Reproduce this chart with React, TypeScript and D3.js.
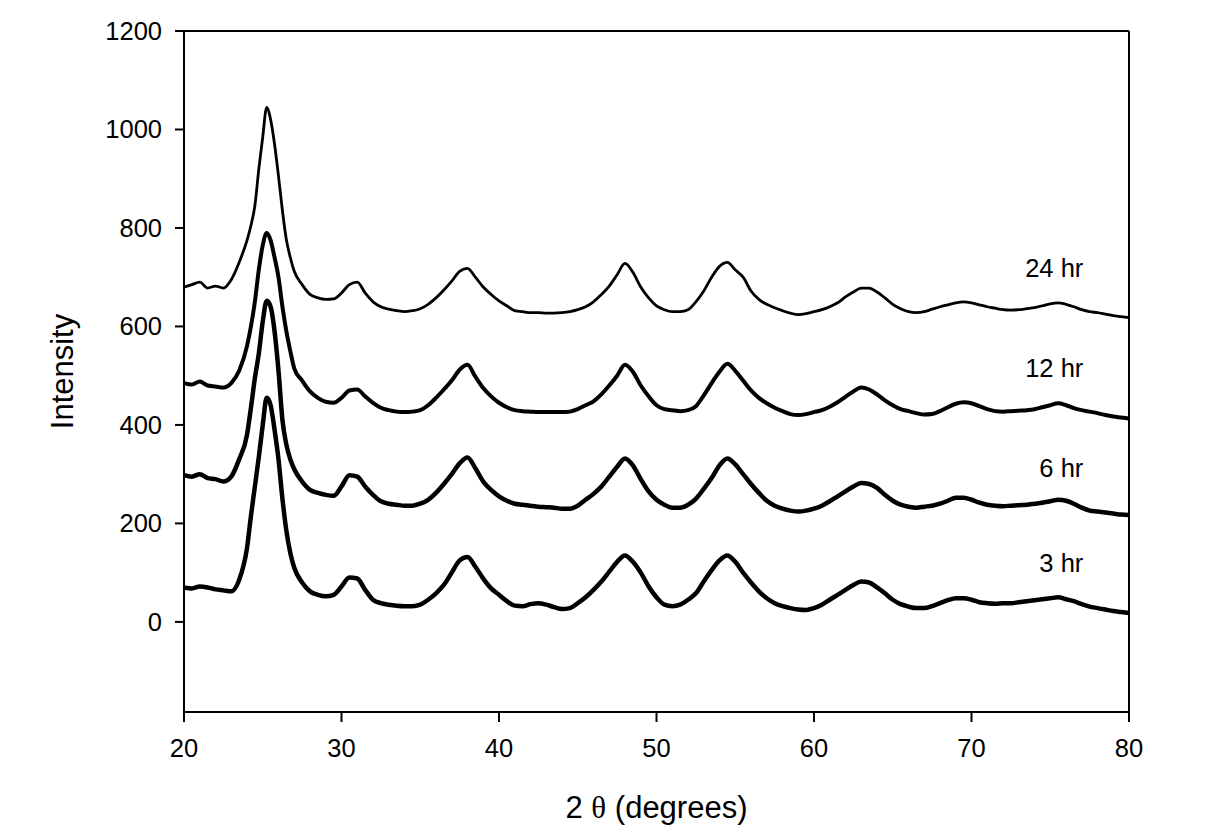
import React from "react";
import * as d3 from "d3";

const angles: number[] = [
  20, 20.5, 21, 21.5, 22, 22.5, 23, 23.5,
  24, 24.25, 24.5, 24.75, 25, 25.25, 25.5, 25.75, 26, 26.25, 26.5, 26.75, 27,
  27.5, 28, 28.5, 29, 29.5, 30, 30.5, 31, 31.5, 32, 32.5, 33, 33.5, 34, 34.5, 35, 35.5,
  36, 36.5, 37, 37.5, 38, 38.5, 39, 39.5, 40, 40.5, 41, 41.5, 42, 42.5, 43, 43.5,
  44, 44.5, 45, 45.5, 46, 46.5, 47, 47.5, 48, 48.5, 49, 49.5, 50, 50.5, 51, 51.5,
  52, 52.5, 53, 53.5, 54, 54.5, 55, 55.5, 56, 56.5, 57, 57.5, 58, 58.5, 59, 59.5,
  60, 60.5, 61, 61.5, 62, 62.5, 63, 63.5, 64, 64.5, 65, 65.5, 66, 66.5, 67, 67.5,
  68, 68.5, 69, 69.5, 70, 70.5, 71, 71.5, 72, 72.5, 73, 73.5, 74, 74.5, 75, 75.5,
  76, 76.5, 77, 77.5, 78, 78.5, 79, 79.5, 80,
];

const hr3: number[] = [
  70, 68, 72, 70, 66, 64, 62, 85,
  150, 215, 275, 335, 400, 455, 440, 390, 330, 250, 185, 140, 110,
  80, 62, 55, 52, 55, 72, 90, 88, 65, 45, 38, 35, 33, 32, 32, 35, 45,
  58, 75, 100, 125, 132, 112, 88, 68, 55, 42, 33, 32, 36, 38, 35, 30,
  26, 28, 38, 50, 65, 82, 102, 122, 135, 122, 100, 72, 50, 35, 32, 35,
  45, 58, 82, 105, 125, 135, 122, 100, 80, 62, 48, 38, 32, 28, 25, 24,
  28, 35, 45, 55, 65, 75, 82, 80, 70, 58, 45, 36, 31, 28, 28, 32,
  38, 44, 48, 48, 45, 40, 38, 37, 38, 38, 40, 42, 44, 46, 48, 50,
  46, 42, 36, 31, 28, 25, 22, 20, 18,
];

const hr6: number[] = [
  298, 295, 300, 292, 290, 285, 295, 330,
  380, 435, 495, 545, 610, 652, 640, 590, 510, 410, 360, 330, 310,
  285, 268, 262, 258, 256, 275, 298, 295, 275, 258, 245, 240, 238, 236, 236, 240, 248,
  262, 280, 300, 322, 334, 312, 285, 268, 255, 246, 240, 238, 236, 234, 233, 232,
  230, 230, 236, 248, 260, 275, 295, 315, 332, 318, 290, 265, 248, 238, 232, 232,
  238, 250, 270, 292, 318, 332, 320, 300, 280, 262, 246, 236, 230, 226, 224, 226,
  230, 236, 245, 255, 265, 275, 282, 280, 272, 258, 246, 238, 234, 232, 234, 236,
  240, 246, 252, 252, 248, 242, 238, 236, 235, 236, 237, 238, 240, 242, 245, 248,
  246, 240, 232, 226, 224, 222, 220, 218, 217,
];

const hr12: number[] = [
  485, 482, 488, 480, 478, 476, 485, 510,
  560, 600, 650, 715, 765, 790, 775, 740, 700, 640, 590, 550, 515,
  490, 468, 455, 447, 445, 455, 470, 472, 458, 445, 435, 430, 427, 426, 427, 430, 440,
  455, 472, 490, 512, 522, 498, 475, 458, 445, 436, 430, 428, 427, 426, 426, 426,
  426, 427, 432, 440, 448, 462, 480, 500, 522, 508, 480, 458, 440, 432, 430, 428,
  430, 438, 460, 485, 508, 524, 510, 490, 470, 455, 444, 435, 428, 422, 420, 422,
  426, 430, 437, 446, 457, 468, 476, 472, 462, 450, 440, 432, 428, 424, 421, 422,
  428, 436, 443, 446, 444, 438, 432, 428, 427, 428, 429, 430, 432, 436, 440, 444,
  440, 434, 430, 427, 424, 420, 417, 415, 413,
];

const hr24: number[] = [
  680, 685, 690, 678, 682, 678, 695, 730,
  775, 805, 845, 920, 985, 1045, 1020, 970, 905, 835, 776, 740, 712,
  685, 665, 658, 655, 656, 668, 685, 690, 668, 650, 640, 635, 632, 630, 632, 636, 645,
  658, 674, 692, 712, 718, 700, 680, 665, 652, 642, 632, 630, 628, 628, 627, 627,
  628, 630, 634, 640, 650, 665, 682, 705, 728, 710, 680, 658, 642, 634, 630, 630,
  634, 650, 672, 700, 722, 730, 715, 700, 672, 655, 645, 638, 632, 627, 624, 626,
  630, 634, 640, 648, 660, 670, 678, 678, 670, 658, 645, 636, 630, 628, 630, 635,
  640, 644, 648, 650, 648, 644, 640, 637, 634, 633, 634, 636, 638, 642, 646, 648,
  645, 640, 634, 630, 628, 625, 622, 620, 618,
];

const seriesNames: string[] = ["3 hr", "6 hr", "12 hr", "24 hr"];
const seriesValues: number[][] = [hr3, hr6, hr12, hr24];
const seriesWidths: number[] = [4.5, 4.5, 4.0, 2.8];
const labelAngles: number[] = [77.1, 77.1, 77.1, 77.1];
const labelValues: number[] = [120, 313, 516, 719];

const xTicks: number[] = [20, 30, 40, 50, 60, 70, 80];
const yTicks: number[] = [0, 200, 400, 600, 800, 1000, 1200];

const W = 1205;
const H = 834;
const FONT = "'Liberation Sans', Arial, Helvetica, sans-serif";

export default function App() {
  const x = d3.scaleLinear().domain([20, 80]).range([184, 1129]);
  const y = d3.scaleLinear().domain([-183, 1200]).range([712, 31]);
  const line = d3
    .line<number>()
    .x((_, i) => x(angles[i]))
    .y((v) => y(v))
    .curve(d3.curveMonotoneX);

  const [x0, x1] = x.range();
  const [yb, yt] = y.range();

  return (
    <svg
      width={W}
      height={H}
      style={{ position: "absolute", left: 0, top: 0, background: "#fff" }}
      fontFamily={FONT}
    >
      <rect x={0} y={0} width={W} height={H} fill="#fff" />
      {seriesValues.map((vals, si) => (
        <path
          key={seriesNames[si]}
          d={line(vals) || ""}
          fill="none"
          stroke="#000"
          strokeWidth={seriesWidths[si]}
          strokeLinejoin="round"
        />
      ))}
      {/* frame */}
      <line x1={x0} x2={x1} y1={yb} y2={yb} stroke="#000" strokeWidth={2} />
      <line x1={x0} x2={x1} y1={yt} y2={yt} stroke="#000" strokeWidth={2} />
      <line x1={x0} x2={x0} y1={yt} y2={yb} stroke="#000" strokeWidth={2} />
      <line x1={x1} x2={x1} y1={yt} y2={yb} stroke="#000" strokeWidth={2} />
      {/* x ticks */}
      {xTicks.map((t) => (
        <g key={"x" + t}>
          <line x1={x(t)} x2={x(t)} y1={yb} y2={yb + 10} stroke="#000" strokeWidth={2} />
          <text x={x(t)} y={yb + 45} textAnchor="middle" fontSize={25.5} fill="#000">
            {t}
          </text>
        </g>
      ))}
      {/* y ticks */}
      {yTicks.map((t) => (
        <g key={"y" + t}>
          <line x1={x0 - 9} x2={x0} y1={y(t)} y2={y(t)} stroke="#000" strokeWidth={2} />
          <text x={x0 - 22} y={y(t)} dy="0.35em" textAnchor="end" fontSize={25.5} fill="#000">
            {t}
          </text>
        </g>
      ))}
      {/* series labels */}
      {seriesNames.map((n, i) => (
        <text
          key={"l" + n}
          x={x(labelAngles[i])}
          y={y(labelValues[i])}
          dy="0.35em"
          textAnchor="end"
          fontSize={25.5}
          fill="#000"
        >
          {n}
        </text>
      ))}
      {/* axis titles */}
      <text x={(x0 + x1) / 2} y={818} textAnchor="middle" fontSize={31} fill="#000">
        2 <tspan fontFamily="'Liberation Serif', 'Times New Roman', serif">θ</tspan> (degrees)
      </text>
      <text
        transform={`translate(73, ${(yb + yt) / 2}) rotate(-90)`}
        textAnchor="middle"
        fontSize={31}
        fill="#000"
      >
        Intensity
      </text>
    </svg>
  );
}
